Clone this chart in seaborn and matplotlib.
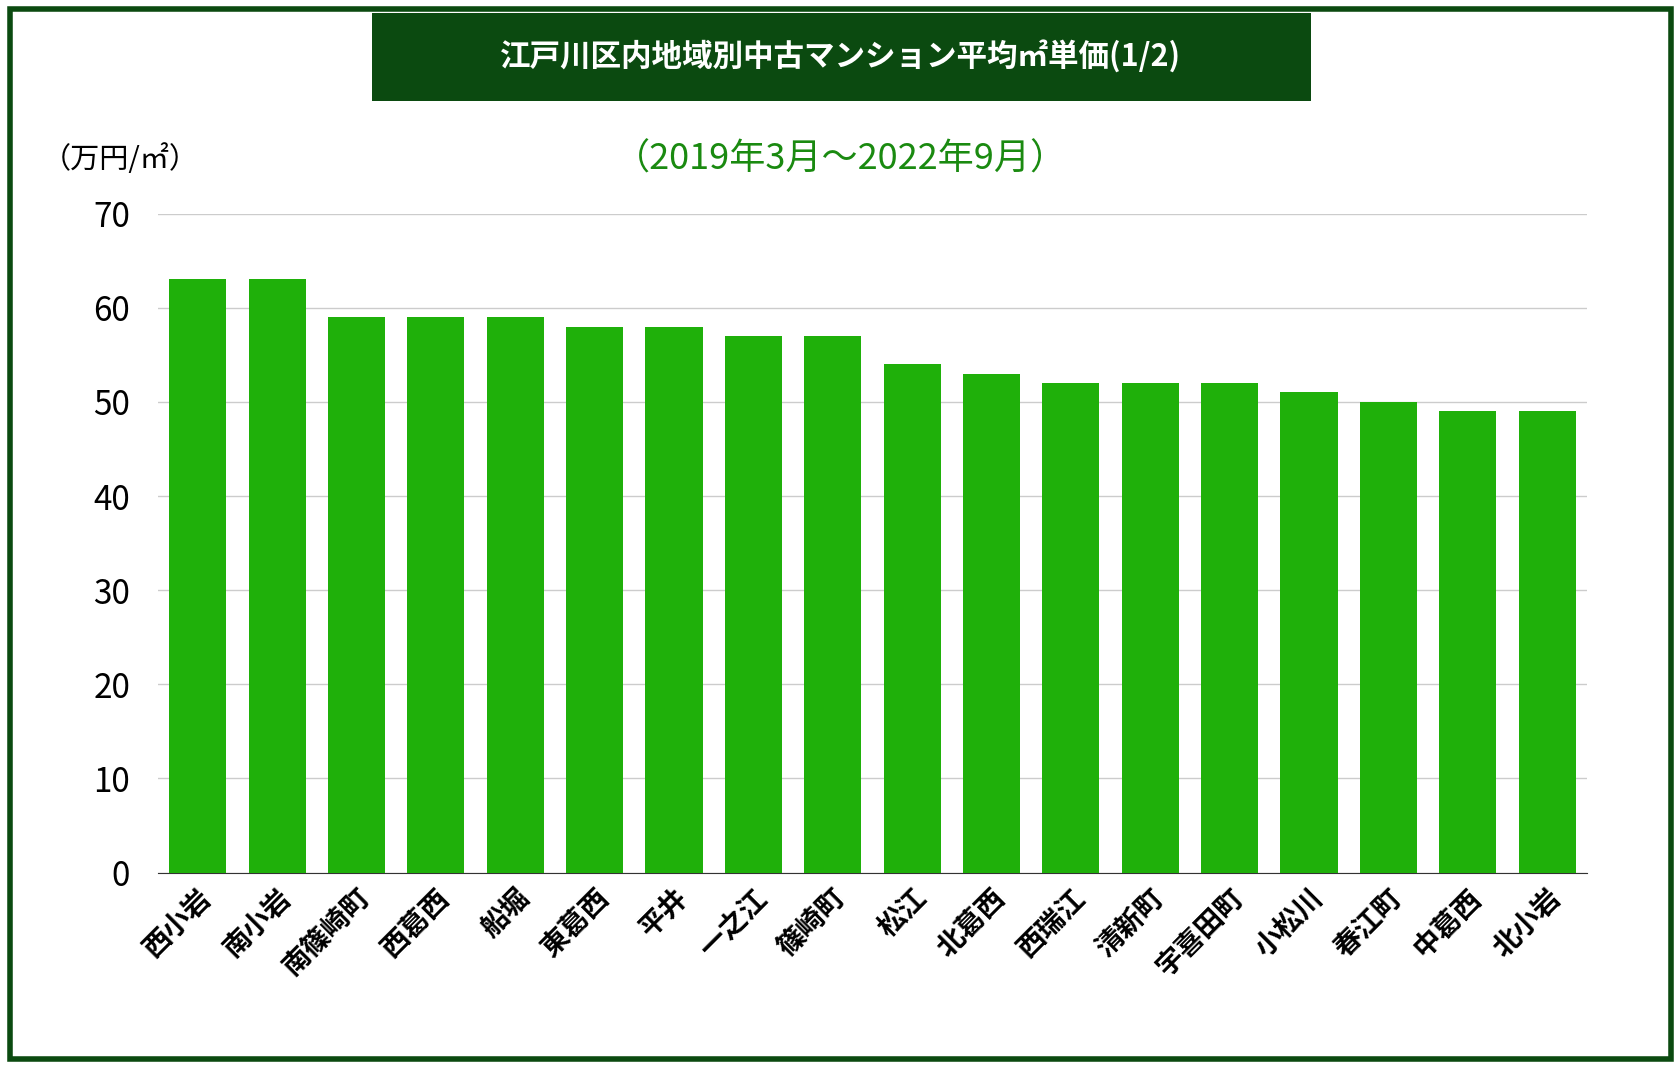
import pandas as pd
import seaborn as sns
import matplotlib.pyplot as plt
from matplotlib.patches import Rectangle

areas = ['西小岩', '南小岩', '南篠崎町', '西葛西', '船堀', '東葛西', '平井', '一之江', '篠崎町',
         '松江', '北葛西', '西瑞江', '清新町', '宇喜田町', '小松川', '春江町', '中葛西', '北小岩']
prices = [63, 63, 59, 59, 59, 58, 58, 57, 57, 54, 53, 52, 52, 52, 51, 50, 49, 49]
yticks = [0, 10, 20, 30, 40, 50, 60, 70]

plt.rcParams['font.family'] = ['Noto Sans CJK JP', 'DejaVu Sans']
df = pd.DataFrame({'area': areas, 'price': prices})

fig = plt.figure(figsize=(16.81, 10.68), dpi=100)
# outer border
fig.patches.append(Rectangle((0.006, 0.008), 0.988, 0.984, transform=fig.transFigure,
                             fill=False, edgecolor='#0b4a10', linewidth=4))
# title box
fig.patches.append(Rectangle((0.221, 0.905), 0.559, 0.083, transform=fig.transFigure,
                             facecolor='#0b4a10', edgecolor='none'))
fig.text(0.5, 0.947, '江戸川区内地域別中古マンション平均㎡単価(1/2)', ha='center', va='center',
         color='white', fontsize=22, fontweight='bold')
fig.text(0.5, 0.851, '（2019年3月～2022年9月）', ha='center', va='center',
         color='#1a8a10', fontsize=26)
fig.text(0.025, 0.851, '（万円/㎡）', ha='left', va='center', fontsize=21)

ax = fig.add_axes([0.094, 0.183, 0.85, 0.617])
sns.barplot(data=df, x='area', y='price', color='#1fb00a', saturation=1, width=0.72, ax=ax, zorder=3)
ax.set_ylim(0, 70)
ax.set_yticks(yticks)
ax.set_xlim(-0.5, len(areas) - 0.5)
ax.grid(axis='y', color='#cccccc', linewidth=1, zorder=0)
for s in ['top', 'right', 'left']:
    ax.spines[s].set_visible(False)
ax.spines['bottom'].set_color('#333333')
ax.tick_params(axis='y', length=0, labelsize=24, pad=20)
ax.tick_params(axis='x', length=0, pad=8)
ax.set_xticks(range(len(areas)))
ax.set_xticklabels(areas, rotation=45, ha='right', rotation_mode='anchor',
                   fontsize=20, fontweight='bold')
ax.set_xlabel('')
ax.set_ylabel('')

fig.savefig('out.png', dpi=100)
